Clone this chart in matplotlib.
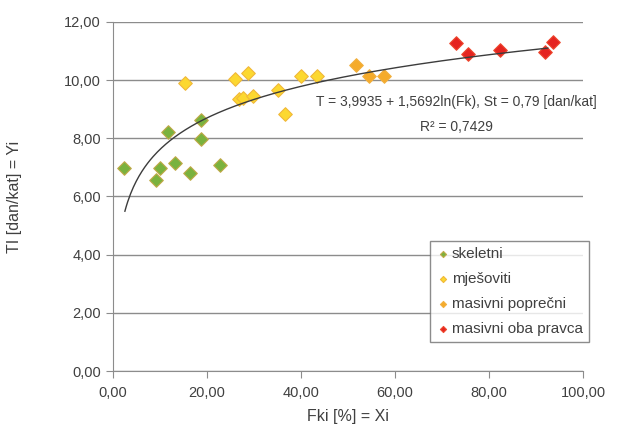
import numpy as np
import matplotlib.pyplot as plt
from matplotlib.ticker import FuncFormatter

plt.rcParams['font.family'] = ['Liberation Sans', 'DejaVu Sans']

# Fki [%] and TI [dan/kat]
skeletni_x = [2.4, 9.2, 10.0, 11.7, 13.2, 16.4, 18.7, 18.7, 22.8]
skeletni_y = [6.97, 6.58, 6.97, 8.23, 7.16, 6.81, 8.61, 7.98, 7.09]
mjesoviti_x = [15.4, 26.0, 28.7, 26.8, 27.7, 29.9, 35.1, 36.6, 40.1, 43.4]
mjesoviti_y = [9.90, 10.02, 10.24, 9.36, 9.39, 9.44, 9.67, 8.82, 10.15, 10.15]
poprecni_x = [51.7, 54.5, 57.6]
poprecni_y = [10.53, 10.14, 10.14]
oba_x = [73.0, 75.5, 82.3, 91.9, 93.5]
oba_y = [11.27, 10.89, 11.02, 10.98, 11.30]

# logarithmic trend line from the chart's equation
coef_a = 3.9935
coef_b = 1.5692
trend_from, trend_to = 2.6, 92.5

fig = plt.figure(figsize=(6.19, 4.28), dpi=100)
ax = fig.add_axes([0.182, 0.133, 0.760, 0.816])

grey = '#8c8c8c'
txt = '#404040'

ax.scatter(skeletni_x, skeletni_y, marker='D', s=48, color='#7ab23e',
           edgecolor='#c2aa4a', linewidth=0.8, label='skeletni', zorder=3)
ax.scatter(mjesoviti_x, mjesoviti_y, marker='D', s=48, color='#fcd830',
           edgecolor='#f0b83a', linewidth=0.8, label='mješoviti', zorder=3)
ax.scatter(poprecni_x, poprecni_y, marker='D', s=48, color='#f5ab2a',
           edgecolor='#f2b040', linewidth=0.8, label='masivni poprečni', zorder=3)
ax.scatter(oba_x, oba_y, marker='D', s=48, color='#e52420',
           edgecolor='#ee4a30', linewidth=0.8, label='masivni oba pravca', zorder=3)

xs = np.linspace(trend_from, trend_to, 300)
ax.plot(xs, coef_a + coef_b * np.log(xs), color='#3c3c3c', lw=1.0, zorder=4)

ax.text(73, 9.25, 'T = 3,9935 + 1,5692ln(Fk), St = 0,79 [dan/kat]',
        ha='center', va='center', fontsize=10, color=txt)
ax.text(73, 8.4, 'R² = 0,7429', ha='center', va='center',
        fontsize=10, color=txt)

ax.set_xlim(0, 100)
ax.set_ylim(0, 12)
ax.set_xticks(np.arange(0, 101, 20))
ax.set_yticks(np.arange(0, 12.1, 2))
fmt = FuncFormatter(lambda v, p: f'{v:.2f}'.replace('.', ','))
ax.xaxis.set_major_formatter(fmt)
ax.yaxis.set_major_formatter(fmt)
ax.grid(axis='y', color=grey, lw=1.0)
ax.set_axisbelow(True)
for s in ['top', 'right']:
    ax.spines[s].set_visible(False)
for s in ['left', 'bottom']:
    ax.spines[s].set_color(grey)
ax.tick_params(colors=grey, labelcolor=txt, labelsize=10.5, length=5)
ax.tick_params(axis='x', pad=6)

ax.set_xlabel('Fki [%] = Xi', fontsize=11.5, color=txt, labelpad=6)
ax.set_ylabel('TI [dan/kat] = Yi', fontsize=11.5, color=txt, labelpad=30)

leg = ax.legend(loc='lower right', bbox_to_anchor=(1.012, 0.083),
                fontsize=11, frameon=True, fancybox=False,
                markerscale=0.45, handletextpad=0.1, handlelength=0.9,
                borderpad=0.4, labelspacing=0.72, borderaxespad=0)
leg.get_frame().set_edgecolor('#707070')
leg.get_frame().set_linewidth(1.0)
for t in leg.get_texts():
    t.set_color(txt)

fig.savefig('out.png', dpi=100)
